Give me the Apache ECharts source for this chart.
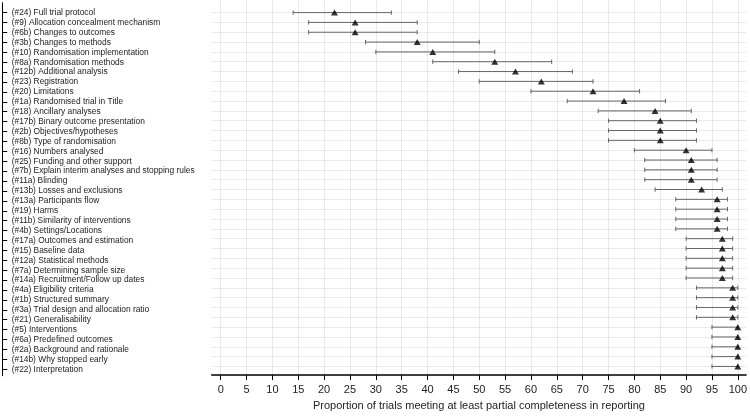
<!DOCTYPE html>
<html>
<head>
<meta charset="utf-8">
<script src="https://cdn.jsdelivr.net/npm/echarts@6/dist/echarts.min.js"></script>
<style>html,body{margin:0;padding:0;background:#fff;}#chart{width:750px;height:416px;}</style>
</head>
<body>
<div id="chart"></div>
<script>
const categories = [
  "(#24) Full trial protocol",
  "(#9) Allocation concealment mechanism",
  "(#6b) Changes to outcomes",
  "(#3b) Changes to methods",
  "(#10) Randomisation implementation",
  "(#8a) Randomisation methods",
  "(#12b) Additional analysis",
  "(#23) Registration",
  "(#20) Limitations",
  "(#1a) Randomised trial in Title",
  "(#18) Ancillary analyses",
  "(#17b) Binary outcome presentation",
  "(#2b) Objectives/hypotheses",
  "(#8b) Type of randomisation",
  "(#16) Numbers analysed",
  "(#25) Funding and other support",
  "(#7b) Explain interim analyses and stopping rules",
  "(#11a) Blinding",
  "(#13b) Losses and exclusions",
  "(#13a) Participants flow",
  "(#19) Harms",
  "(#11b) Similarity of interventions",
  "(#4b) Settings/Locations",
  "(#17a) Outcomes and estimation",
  "(#15) Baseline data",
  "(#12a) Statistical methods",
  "(#7a) Determining sample size",
  "(#14a) Recruitment/Follow up dates",
  "(#4a) Eligibility criteria",
  "(#1b) Structured summary",
  "(#3a) Trial design and allocation ratio",
  "(#21) Generalisability",
  "(#5) Interventions",
  "(#6a) Predefined outcomes",
  "(#2a) Background and rationale",
  "(#14b) Why stopped early",
  "(#22) Interpretation"
];
const estimates = [22,26,26,38,41,53,57,62,72,78,84,85,85,85,90,91,91,91,93,96,96,96,96,97,97,97,97,97,99,99,99,99,100,100,100,100,100];
const lower     = [14,17,17,28,30,41,46,50,60,67,73,75,75,75,80,82,82,82,84,88,88,88,88,90,90,90,90,90,92,92,92,92,95,95,95,95,95];
const upper     = [33,38,38,50,53,64,68,72,81,86,91,92,92,92,95,96,96,96,97,98,98,98,98,99,99,99,99,99,100,100,100,100,100,100,100,100,100];
const xTicks = [0,5,10,15,20,25,30,35,40,45,50,55,60,65,70,75,80,85,90,95,100];
const xTitle = "Proportion of trials meeting at least partial completeness in reporting";

const rowIdx = categories.map((_, i) => i);
const FONT = "'Liberation Sans', Arial, sans-serif";

const chart = echarts.init(document.getElementById('chart'), null, {renderer: 'canvas'});
const option = {
  animation: false,
  backgroundColor: '#ffffff',
  grid: [
    {left: 211.7, right: 3, top: 0, bottom: 38},
    {left: 2.7, width: 4, top: 2.7, height: 373}
  ],
  xAxis: [
    {
      gridIndex: 0, type: 'value', min: -1.74, max: 101.6, position: 'bottom',
      axisLine: {show: true, onZero: false, lineStyle: {color: '#000', width: 1.5}},
      axisTick: {show: true, customValues: xTicks, length: 5, lineStyle: {color: '#000', width: 1}},
      axisLabel: {show: true, customValues: xTicks, margin: 9, color: '#222', fontSize: 11, fontFamily: FONT},
      splitLine: {show: true, lineStyle: {color: '#e9e9e9', width: 1}},
      name: xTitle, nameLocation: 'middle', nameGap: 22,
      nameTextStyle: {color: '#222', fontSize: 11, fontFamily: FONT}
    },
    {gridIndex: 1, type: 'value', show: false, min: 0, max: 1}
  ],
  yAxis: [
    {
      gridIndex: 0, type: 'value', inverse: true, min: -1.28, max: 36.88,
      axisLine: {show: false, onZero: false}, axisLabel: {show: false},
      axisTick: {show: false, customValues: rowIdx},
      splitLine: {show: true, lineStyle: {color: '#e9e9e9', width: 1}}
    },
    {
      gridIndex: 1, type: 'value', inverse: true, min: -1.01, max: 36.65,
      position: 'left',
      axisLine: {show: true, onZero: false, lineStyle: {color: '#000', width: 1}},
      axisTick: {show: true, inside: true, length: 4.5, customValues: rowIdx, lineStyle: {color: '#000'}},
      axisLabel: {show: true, inside: true, margin: 9, customValues: rowIdx, color: '#222', fontSize: 8.4, fontFamily: FONT,
        formatter: v => categories[v]},
      splitLine: {show: false}
    }
  ],
  series: [
    {
      type: 'custom', xAxisIndex: 0, yAxisIndex: 0,
      data: rowIdx.map(i => [i, lower[i], upper[i]]),
      encode: {x: [1, 2], y: 0},
      renderItem: function (params, api) {
        const y = api.value(0), lo = api.value(1), hi = api.value(2);
        const p1 = api.coord([lo, y]), p2 = api.coord([hi, y]);
        const h = 2.2;
        const st = {stroke: '#666', lineWidth: 1};
        return {type: 'group', children: [
          {type: 'line', shape: {x1: p1[0], y1: p1[1], x2: p2[0], y2: p2[1]}, style: st},
          {type: 'line', shape: {x1: p1[0], y1: p1[1] - h, x2: p1[0], y2: p1[1] + h}, style: st},
          {type: 'line', shape: {x1: p2[0], y1: p2[1] - h, x2: p2[0], y2: p2[1] + h}, style: st}
        ]};
      },
      z: 2
    },
    {
      type: 'scatter', xAxisIndex: 0, yAxisIndex: 0,
      data: rowIdx.map(i => [estimates[i], i]),
      symbol: 'triangle', symbolSize: [7, 6],
      itemStyle: {color: '#000'},
      z: 3
    }
  ]
};
chart.setOption(option);
</script>
</body>
</html>
